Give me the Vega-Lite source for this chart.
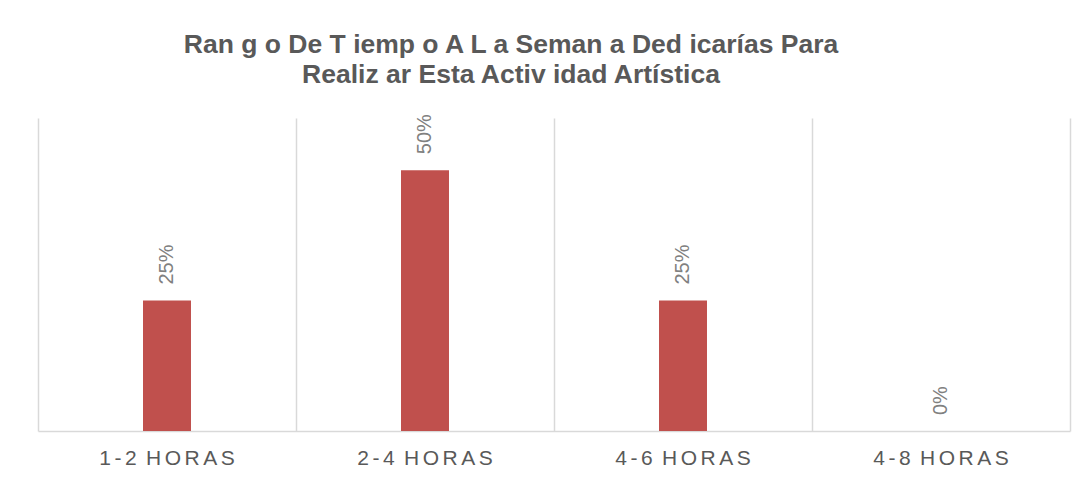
{
  "$schema": "https://vega.github.io/schema/vega-lite/v6.json",
  "width": 1032,
  "height": 313,
  "autosize": {"type": "none"},
  "padding": {"left": 38, "top": 118, "right": 22, "bottom": 50},
  "background": "#ffffff",
  "title": {
    "text": ["Ran g o De T iemp o A L a Seman a Ded icarías Para", "Realiz ar Esta Activ idad Artística"],
    "font": "Liberation Sans",
    "fontSize": 26.5,
    "fontWeight": "bold",
    "color": "#595959",
    "lineHeight": 30,
    "anchor": "middle",
    "dx": -43,
    "offset": 26
  },
  "data": {
    "values": [
      {"rango": "1-2 HORAS", "pct": 0.25},
      {"rango": "2-4 HORAS", "pct": 0.5},
      {"rango": "4-6 HORAS", "pct": 0.25},
      {"rango": "4-8 HORAS", "pct": 0.0}
    ]
  },
  "encoding": {
    "x": {
      "field": "rango",
      "type": "nominal",
      "sort": null,
      "scale": {"paddingInner": 0, "paddingOuter": 0},
      "axis": {
        "title": null,
        "labelAngle": 0,
        "labelFont": "Liberation Sans",
        "labelFontSize": 21,
        "labelColor": "#595959",
        "labelPadding": 16,
        "labelExpr": "replace(join(split(datum.label, ''), '\u2006'), '\u2006 \u2006', '\u2006 ')",
        "ticks": false,
        "domainColor": "#d9d9d9",
        "domainWidth": 1.5,
        "grid": true,
        "gridColor": "#d9d9d9",
        "gridWidth": 1.5,
        "bandPosition": 0
      }
    },
    "y": {
      "field": "pct",
      "type": "quantitative",
      "scale": {"domain": [0, 0.6], "nice": false},
      "axis": {
        "orient": "right",
        "title": null,
        "labels": false,
        "ticks": false,
        "grid": false,
        "domain": true,
        "domainColor": "#d9d9d9",
        "domainWidth": 1.5
      }
    }
  },
  "layer": [
    {
      "mark": {"type": "bar", "color": "#c0504d", "width": {"band": 0.186}}
    },
    {
      "mark": {
        "type": "text",
        "angle": 270,
        "align": "left",
        "baseline": "middle",
        "dx": 16,
        "font": "Liberation Sans",
        "fontSize": 20,
        "color": "#808080"
      },
      "encoding": {
        "text": {"field": "pct", "type": "quantitative", "format": ".0%"}
      }
    }
  ],
  "config": {"view": {"stroke": null}}
}
